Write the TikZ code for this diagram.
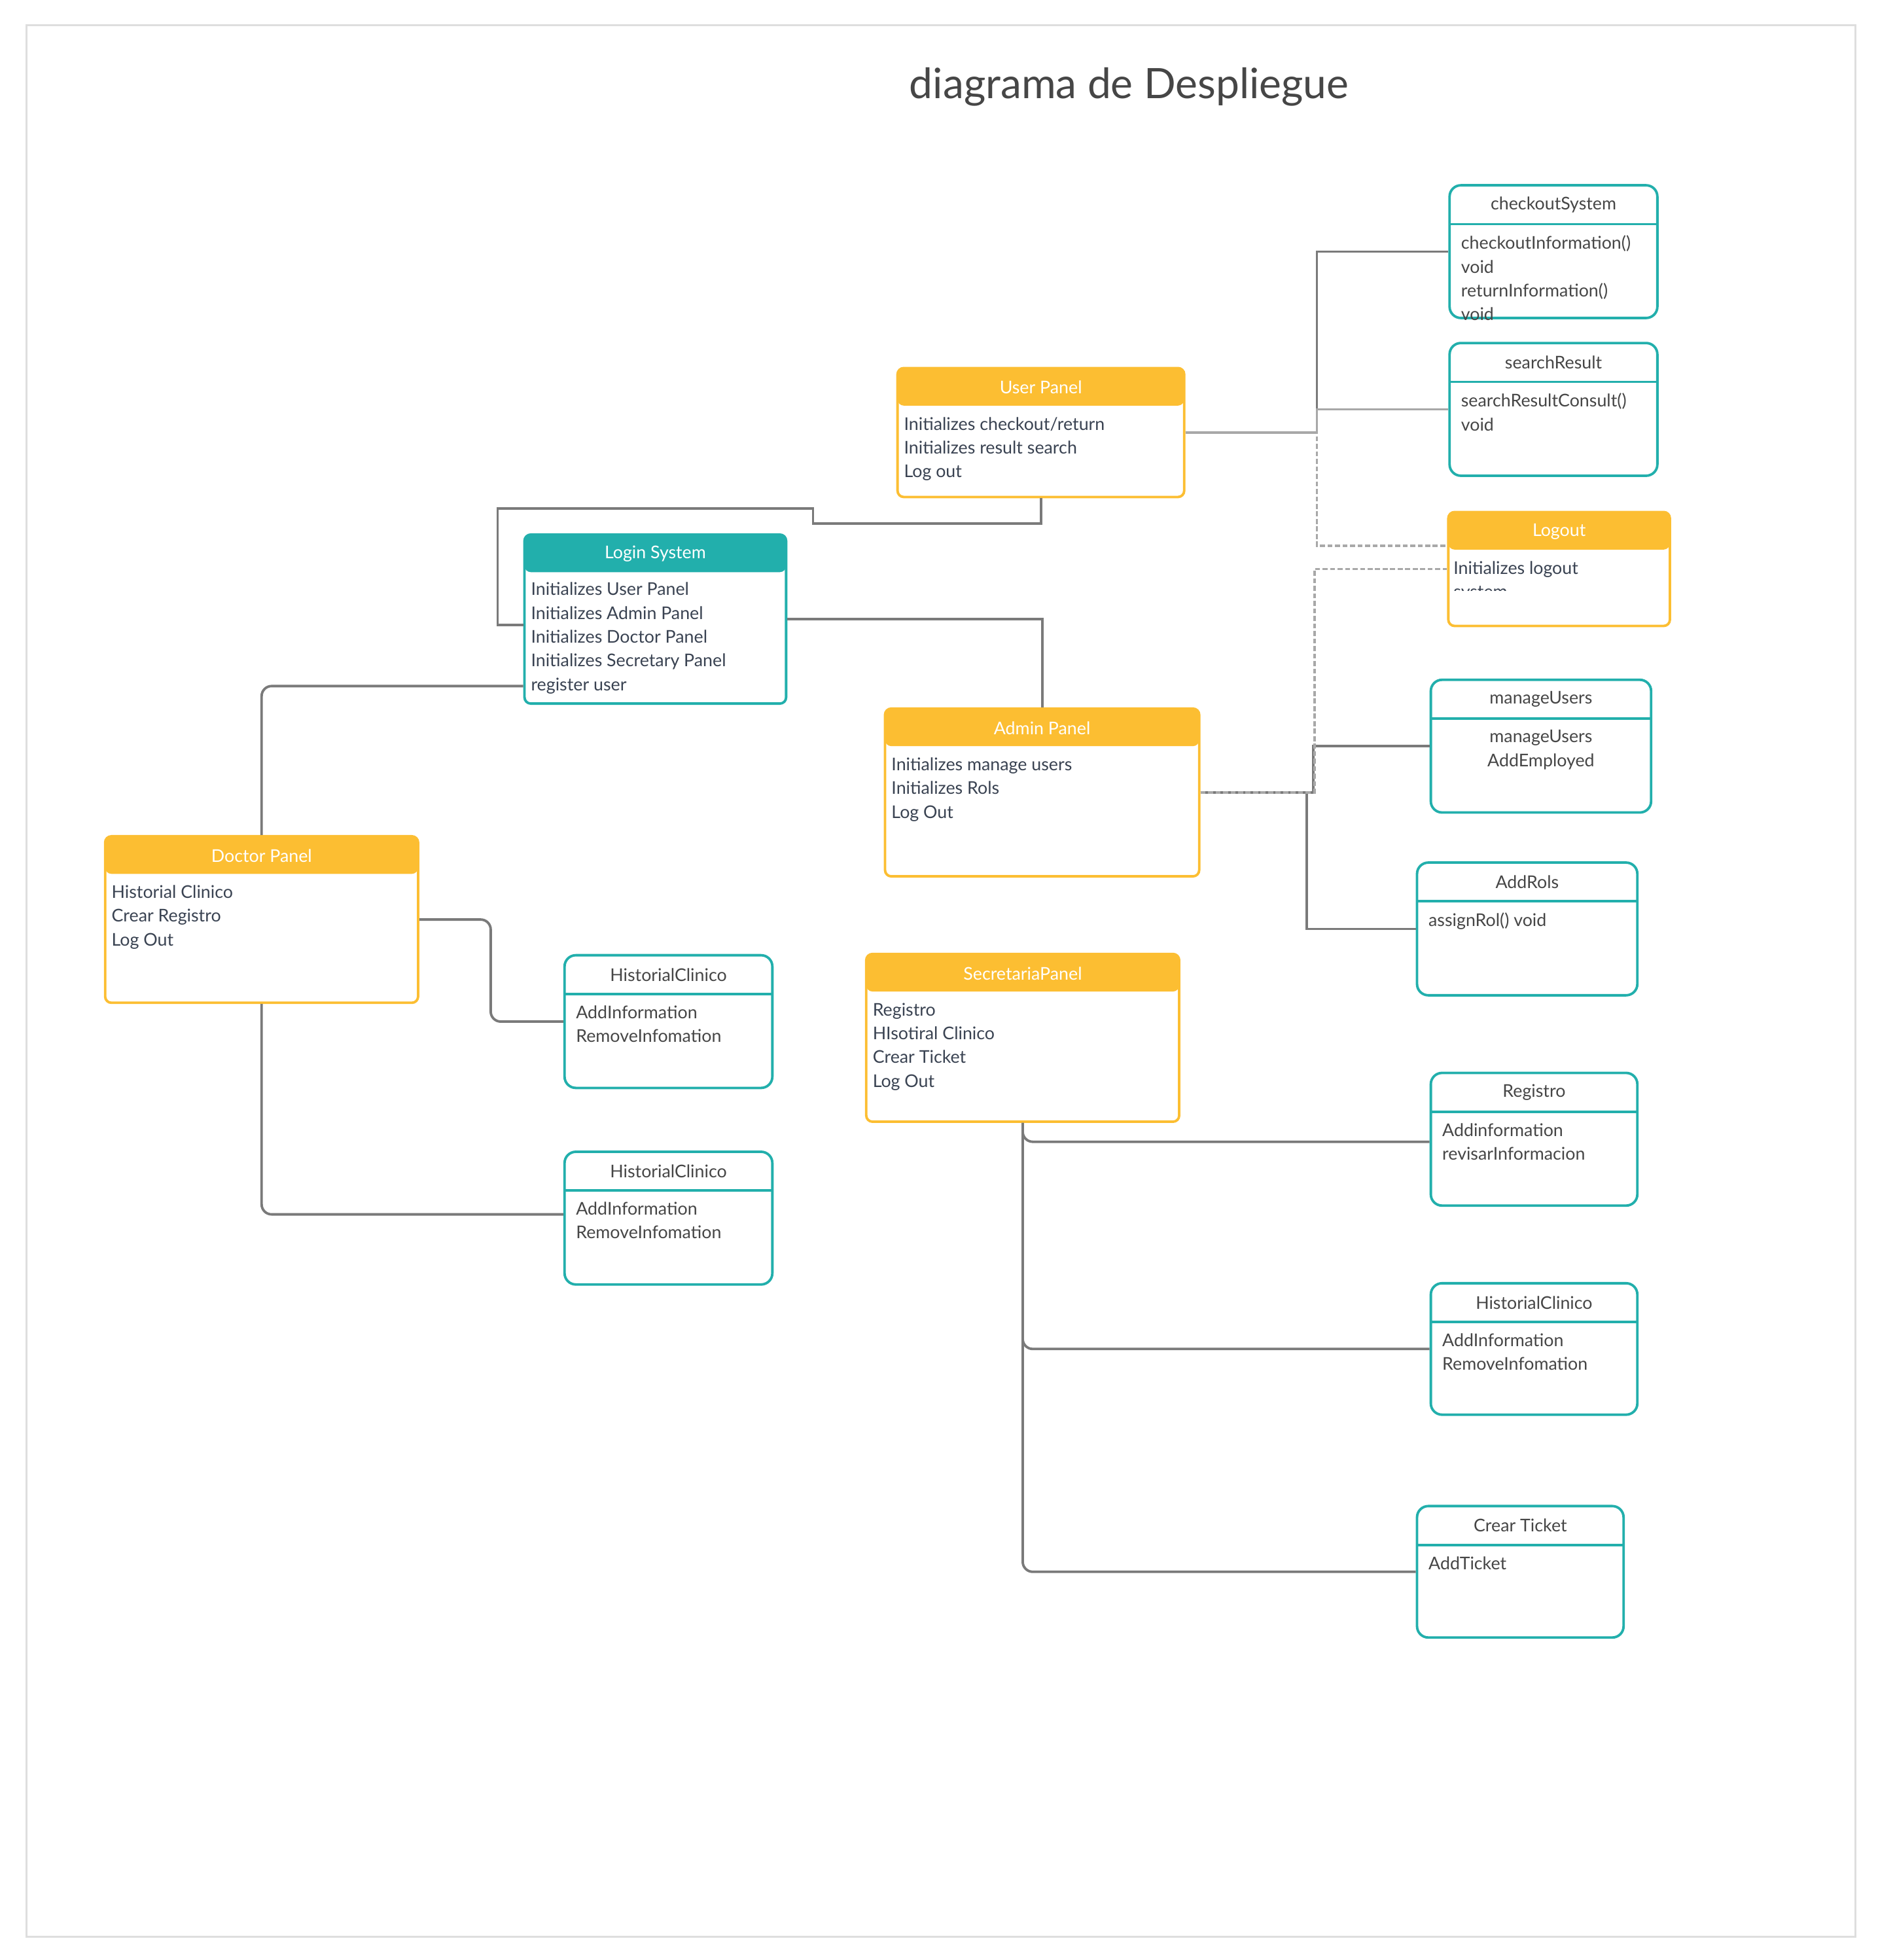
\documentclass[tikz,border=0pt]{standalone}
\usepackage{fontspec}
\setmainfont{Lato}
\usetikzlibrary{positioning}
\definecolor{amarillo}{RGB}{252,190,50}
\definecolor{turquesa}{RGB}{34,175,172}
\definecolor{gris}{RGB}{122,122,122}
\definecolor{grisClaro}{RGB}{168,168,168}
\definecolor{textoAzul}{RGB}{58,67,82}
\definecolor{textoGris}{RGB}{70,70,70}
\definecolor{marco}{RGB}{222,222,222}

\begin{document}
\begin{tikzpicture}[x=1pt, y=-1pt,
        panel/.style={draw=amarillo, fill=white, line width=2pt, rounded corners=5pt,
            path picture={\fill[amarillo] (path picture bounding box.north west) rectangle ([yshift=-30pt]path picture bounding box.north east);}},
        sistema/.style={draw=turquesa, fill=white, line width=2pt, rounded corners=5pt,
            path picture={\fill[turquesa] (path picture bounding box.north west) rectangle ([yshift=-30pt]path picture bounding box.north east);}},
        clase/.style={draw=turquesa, fill=white, line width=2pt, rounded corners=9pt,
            path picture={\draw[turquesa, line width=2pt] ([yshift=-31pt]path picture bounding box.north west) -- ([yshift=-31pt]path picture bounding box.north east);}},
        titulo/.style={font=\fontsize{14}{17}\selectfont, text=white, inner sep=0pt},
        tituloClase/.style={font=\fontsize{14}{17}\selectfont, text=textoGris, inner sep=0pt},
        texto/.style={font=\fontsize{14}{19}\selectfont, align=left, inner sep=0pt, text=textoAzul},
        textoClase/.style={font=\fontsize{14}{19}\selectfont, align=left, inner sep=0pt, text=textoGris},
        linea/.style={draw=gris, line width=2pt},
        punteada/.style={draw=grisClaro, line width=2pt, dash pattern=on 4pt off 2pt}
    ]
    \useasboundingbox (0,0) rectangle (1500,1565.6);
    \draw[marco, line width=1.5pt] (21,20) rectangle (1482,1547);
    \node[font=\fontsize{33.5}{40}\selectfont, text=textoGris] (titulo) at (902,69.5) {diagrama de Despliegue};

    % Cajas
    \node[panel, minimum width=229, minimum height=103] (userPanel) at (831.5,345.5) {};
    \node[titulo] (userPanelTit) at ([yshift=-16.5pt]userPanel.north) {User Panel};
    \node[texto, below right=40pt and 6pt of userPanel.north west] (userPanelTxt) {Initializes checkout/return\\Initializes result search\\Log out};

    \node[clase, minimum width=166, minimum height=106] (checkoutSystem) at (1241,201) {};
    \node[tituloClase] (checkoutSystemTit) at ([yshift=-16.5pt]checkoutSystem.north) {checkoutSystem};
    \node[textoClase, below right=41pt and 10pt of checkoutSystem.north west] (checkoutSystemTxt) {checkoutInformation()\\void\\returnInformation()\\void};

    \node[clase, minimum width=166, minimum height=106] (searchResult) at (1241,327) {};
    \node[tituloClase] (searchResultTit) at ([yshift=-16.5pt]searchResult.north) {searchResult};
    \node[textoClase, below right=41pt and 10pt of searchResult.north west] (searchResultTxt) {searchResultConsult()\\void};

    \node[panel, minimum width=177, minimum height=91] (logout) at (1245.5,454.5) {};
    \node[titulo] (logoutTit) at ([yshift=-16.5pt]logout.north) {Logout};
    \begin{scope}
        \clip (1150,440) rectangle (1340,472);
        \node[texto, below right=40pt and 5pt of logout.north west] (logoutTxt) {Initializes logout\\system};
    \end{scope}

    \node[sistema, minimum width=209, minimum height=135] (login) at (523.5,494.5) {};
    \node[titulo] (loginTit) at ([yshift=-16.5pt]login.north) {Login System};
    \node[texto, below right=39pt and 6pt of login.north west] (loginTxt) {Initializes User Panel\\Initializes Admin Panel\\Initializes Doctor Panel\\Initializes Secretary Panel\\register user};

    \node[clase, minimum width=176, minimum height=106] (manageUsers) at (1231,596) {};
    \node[tituloClase] (manageUsersTit) at ([yshift=-16.5pt]manageUsers.north) {manageUsers};
    \node[textoClase, align=center, below=41pt of manageUsers.north] (manageUsersTxt) {manageUsers\\AddEmployed};

    \node[panel, minimum width=251, minimum height=134] (adminPanel) at (832.5,633) {};
    \node[titulo] (adminPanelTit) at ([yshift=-16.5pt]adminPanel.north) {Admin Panel};
    \node[texto, below right=40pt and 6pt of adminPanel.north west] (adminPanelTxt) {Initializes manage users\\Initializes Rols\\Log Out};

    \node[clase, minimum width=176, minimum height=106] (addRols) at (1220,742) {};
    \node[tituloClase] (addRolsTit) at ([yshift=-16.5pt]addRols.north) {AddRols};
    \node[textoClase, below right=41pt and 10pt of addRols.north west] (addRolsTxt) {assignRol() void};

    \node[panel, minimum width=250, minimum height=133] (doctorPanel) at (209,734.5) {};
    \node[titulo] (doctorPanelTit) at ([yshift=-16.5pt]doctorPanel.north) {Doctor Panel};
    \node[texto, below right=40pt and 6pt of doctorPanel.north west] (doctorPanelTxt) {Historial Clinico\\Crear Registro\\Log Out};

    \node[clase, minimum width=166, minimum height=106] (historialDoctor1) at (534,816) {};
    \node[tituloClase] (historialDoctor1Tit) at ([yshift=-16.5pt]historialDoctor1.north) {HistorialClinico};
    \node[textoClase, below right=41pt and 10pt of historialDoctor1.north west] (historialDoctor1Txt) {AddInformation\\RemoveInfomation};

    \node[panel, minimum width=250, minimum height=134] (secretariaPanel) at (817,829) {};
    \node[titulo] (secretariaPanelTit) at ([yshift=-16.5pt]secretariaPanel.north) {SecretariaPanel};
    \node[texto, below right=40pt and 6pt of secretariaPanel.north west] (secretariaPanelTxt) {Registro\\HIsotiral Clinico\\Crear Ticket\\Log Out};

    \node[clase, minimum width=166, minimum height=106] (historialDoctor2) at (534,973) {};
    \node[tituloClase] (historialDoctor2Tit) at ([yshift=-16.5pt]historialDoctor2.north) {HistorialClinico};
    \node[textoClase, below right=41pt and 10pt of historialDoctor2.north west] (historialDoctor2Txt) {AddInformation\\RemoveInfomation};

    \node[clase, minimum width=165, minimum height=106] (registro) at (1225.5,910) {};
    \node[tituloClase] (registroTit) at ([yshift=-16.5pt]registro.north) {Registro};
    \node[textoClase, below right=41pt and 10pt of registro.north west] (registroTxt) {Addinformation\\revisarInformacion};

    \node[clase, minimum width=165, minimum height=105] (historialSecretaria) at (1225.5,1077.5) {};
    \node[tituloClase] (historialSecretariaTit) at ([yshift=-16.5pt]historialSecretaria.north) {HistorialClinico};
    \node[textoClase, below right=41pt and 10pt of historialSecretaria.north west] (historialSecretariaTxt) {AddInformation\\RemoveInfomation};

    \node[clase, minimum width=165, minimum height=105] (crearTicket) at (1214.5,1255.5) {};
    \node[tituloClase] (crearTicketTit) at ([yshift=-16.5pt]crearTicket.north) {Crear Ticket};
    \node[textoClase, below right=41pt and 10pt of crearTicket.north west] (crearTicketTxt) {AddTicket};

    % Lineas
    \draw[punteada] (userPanel.east) -- ++(105,0) |- ([yshift=18.5pt]logout.west);
    \draw[linea] (userPanel.east) -- ++(105,0) |- (checkoutSystem.west);
    \draw[linea, draw=grisClaro] (userPanel.east) -- ++(105,0) |- (searchResult.west);

    \draw[linea] (adminPanel.east) -- ++(90,0) |- (manageUsers.west);
    \draw[linea] (adminPanel.east) -- ++(85,0) |- (addRols.west);
    \draw[punteada] (adminPanel.east) -- ++(91,0) |- (logout.west);

    \draw[linea] (userPanel.south) -- ++(0,20) -- ++(-182,0) -- ++(0,-12) -- ++(-252,0) |- ([yshift=-4.5pt]login.west);
    \draw[linea] (login.east) -| (adminPanel.north);
    \draw[linea, rounded corners=8pt] ([yshift=-53.5pt]login.west) -| (doctorPanel.north);

    \draw[linea, rounded corners=8pt] (doctorPanel.east) -- ++(57,0) |- (historialDoctor1.west);
    \draw[linea, rounded corners=8pt] (doctorPanel.south) |- ([yshift=3pt]historialDoctor2.west);

    \draw[linea, rounded corners=8pt] (secretariaPanel.south) |- ([yshift=-2pt]registro.west);
    \draw[linea, rounded corners=8pt] (secretariaPanel.south) |- (historialSecretaria.west);
    \draw[linea, rounded corners=8pt] (secretariaPanel.south) |- (crearTicket.west);

\end{tikzpicture}
\end{document}
